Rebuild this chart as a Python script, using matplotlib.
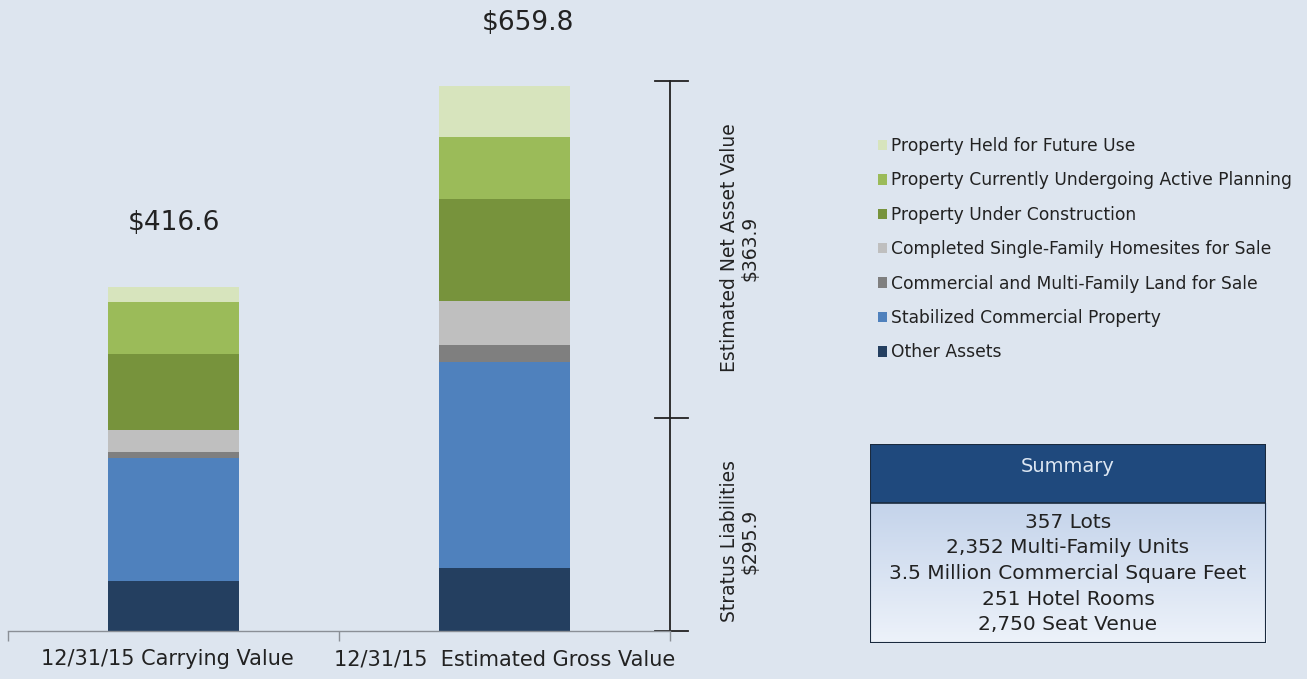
import matplotlib
matplotlib.use("Agg")
import matplotlib.pyplot as plt
from matplotlib.patches import Patch, Rectangle
import numpy as np

plt.rcParams['font.family'] = ['DejaVu Sans']

categories = ["12/31/15 Carrying Value", "12/31/15  Estimated Gross Value"]
series_names = ["Other Assets", "Stabilized Commercial Property",
                "Commercial and Multi-Family Land for Sale",
                "Completed Single-Family Homesites for Sale",
                "Property Under Construction",
                "Property Currently Undergoing Active Planning",
                "Property Held for Future Use"]
values = {
    "Other Assets": [60.5, 76.3],
    "Stabilized Commercial Property": [149.0, 249.4],
    "Commercial and Multi-Family Land for Sale": [7.5, 20.6],
    "Completed Single-Family Homesites for Sale": [26.4, 53.3],
    "Property Under Construction": [92.0, 123.5],
    "Property Currently Undergoing Active Planning": [63.0, 75.0],
    "Property Held for Future Use": [18.2, 61.7],
}
totals = [416.6, 659.8]
total_labels = ["$416.6", "$659.8"]
liabilities = 295.9
net_asset_value = 363.9
bracket_mid = 258.0
bracket_top = 666.0
summary_title = "Summary"
summary_lines = ["357 Lots", "2,352 Multi-Family Units",
                 "3.5 Million Commercial Square Feet", "251 Hotel Rooms",
                 "2,750 Seat Venue"]

colors = ["#243f60", "#4f81bd", "#7f7f7f", "#bfbfbf", "#77933c", "#9bbb59", "#d7e4bd"]
bg = "#dde5ef"
txt = "#222222"
W, H = 1307, 679

fig = plt.figure(figsize=(W / 100, H / 100), dpi=100, facecolor=bg)

def px(x0, y0, x1, y1):
    return [x0 / W, 1 - y1 / H, (x1 - x0) / W, (y1 - y0) / H]

ax = fig.add_axes(px(8, 0, 670, 631))
ax.patch.set_alpha(0)
x = np.arange(len(categories))
bottom = np.zeros(len(categories))
for name, c in zip(series_names, colors):
    v = np.array(values[name])
    ax.bar(x, v, width=0.396, bottom=bottom, color=c, label=name, linewidth=0)
    bottom += v

ax.set_xlim(-0.5, 1.5)
ax.set_ylim(0, 631 / 0.826)
for s in ["top", "right", "left"]:
    ax.spines[s].set_visible(False)
ax.spines["bottom"].set_color("#8a8f96")
ax.spines["bottom"].set_linewidth(1.0)
ax.set_yticks([])
ax.set_xticks([-0.5, 0.5, 1.5])
ax.set_xticklabels([])
ax.tick_params(axis="x", direction="out", length=7, color="#8a8f96", width=1.0)
cat_off = [-0.02, 0.0]
for xi, cat, off in zip(x, categories, cat_off):
    ax.text(xi + off, -22, cat, ha="center", va="top", fontsize=15, color=txt,
            clip_on=False)

# totals
offsets = [0.0, 0.07]
ty = [totals[0] + 77, totals[1] + 76]
for xi, lab, off, yy in zip(x, total_labels, offsets, ty):
    ax.text(xi + off, yy, lab, ha="center", va="center", fontsize=19, color=txt)

# bracket
bx = 1.5
ax.plot([bx, bx], [0, bracket_top], color=txt, lw=1.3, clip_on=False)
for yy in [0, bracket_mid, bracket_top]:
    ax.plot([bx - 0.045, bx + 0.055], [yy, yy], color=txt, lw=1.3, clip_on=False)
fig.text(740 / W, 1 - 248 / H, f"Estimated Net Asset Value\n${net_asset_value}",
         rotation=90, ha="center", va="center", fontsize=13.5, color=txt,
         linespacing=1.1, multialignment="center")
fig.text(740 / W, 1 - 541 / H, f"Stratus Liabilities\n${liabilities}",
         rotation=90, ha="center", va="center", fontsize=13.5, color=txt,
         linespacing=1.1, multialignment="center")

# legend
handles = [Patch(facecolor=c, edgecolor="none", label=n) for n, c in zip(series_names, colors)]
leg = fig.legend(handles[::-1], [h.get_label() for h in handles[::-1]],
                 loc="upper left", bbox_to_anchor=(878 / W, 1 - 137 / H),
                 frameon=False, fontsize=12.3, handlelength=0.55, handleheight=0.55,
                 handletextpad=0.22, labelspacing=0.96, borderaxespad=0, borderpad=0)
for t in leg.get_texts():
    t.set_color(txt)

# summary box
sax = fig.add_axes(px(870, 444, 1266, 643))
sax.axis("off")
hfrac = (643 - 503) / (643 - 444)
grad = np.linspace(0, 1, 100).reshape(-1, 1)
c_top = np.array([0.77, 0.83, 0.92])
c_bot = np.array([0.93, 0.95, 0.98])
img = c_top[None, None, :] * (1 - grad[:, :, None]) + c_bot[None, None, :] * grad[:, :, None]
sax.imshow(img, extent=[0, 1, 0, hfrac], aspect="auto", origin="upper")
sax.add_patch(Rectangle((0, hfrac), 1, 1 - hfrac, facecolor="#1f497d", edgecolor="none"))
sax.add_patch(Rectangle((0, 0), 1, 1, facecolor="none", edgecolor="#1a2a3e", lw=1.5))
sax.plot([0, 1], [hfrac, hfrac], color="#1a2a3e", lw=1.2)
sax.set_xlim(0, 1)
sax.set_ylim(0, 1)
sax.text(0.5, 1 - (466 - 444) / 199, summary_title, ha="center", va="center",
         fontsize=14, color="#dce6f2")
for i, line in enumerate(summary_lines):
    yy = 522 + i * 25.7
    sax.text(0.5, 1 - (yy - 444) / 199, line, ha="center", va="center",
             fontsize=14.5, color=txt)

fig.savefig("out.png", dpi=100, facecolor=bg)
